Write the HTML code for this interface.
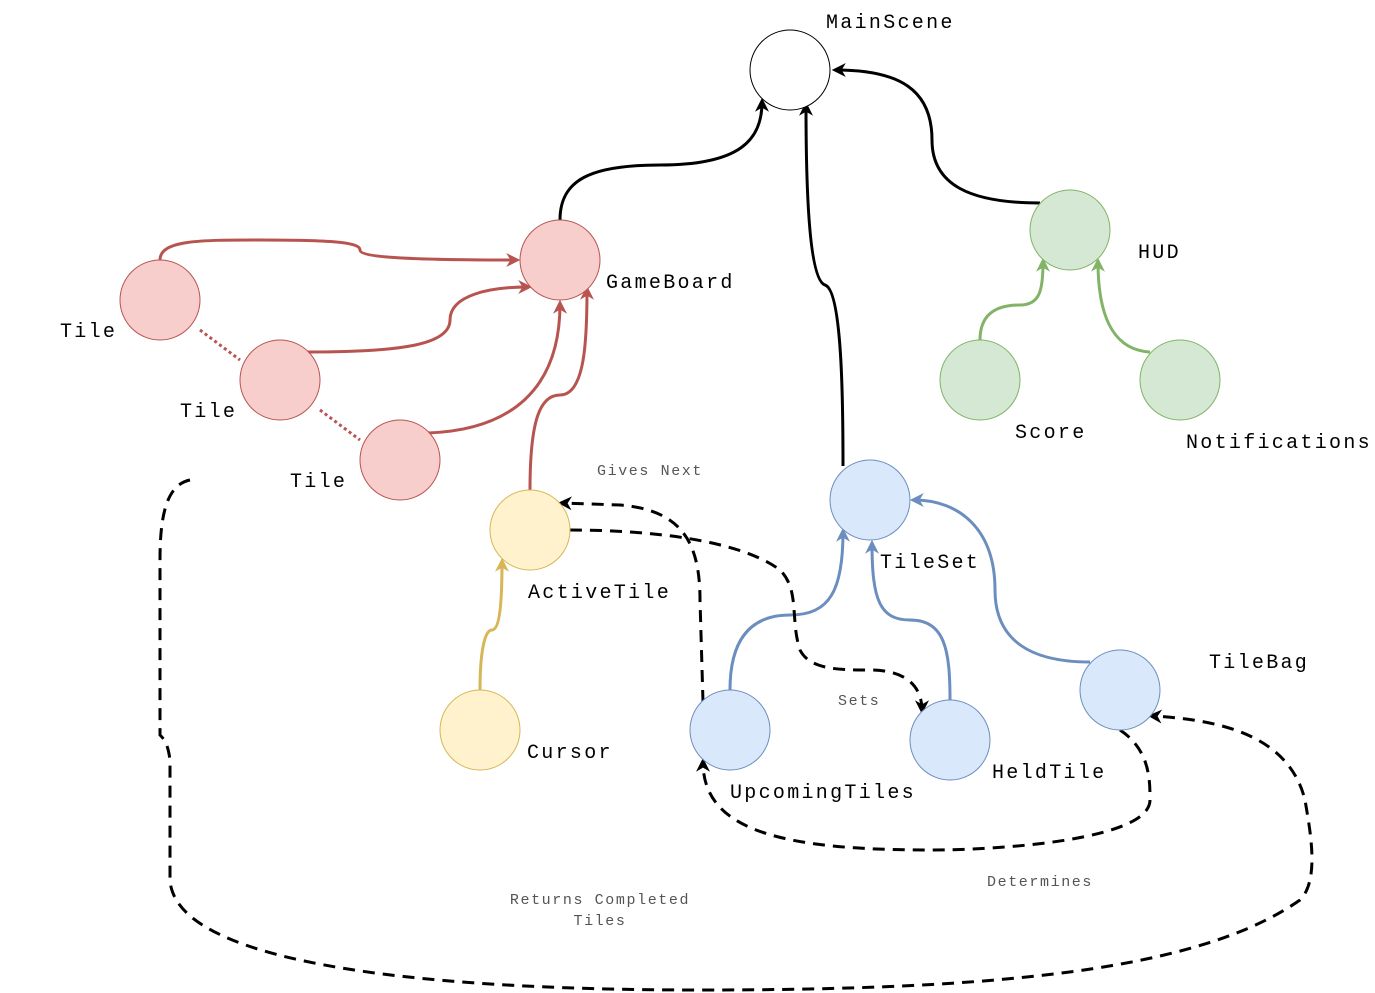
<!DOCTYPE html>
<html><head><meta charset="utf-8"><style>
html,body{margin:0;padding:0;background:#fff}
svg{display:block}
.l{font-family:"Liberation Mono",monospace;font-size:20px;letter-spacing:2.3px;fill:#000}
.s{font-family:"Liberation Mono",monospace;font-size:15px;letter-spacing:1.6px;fill:#555}
</style></head><body>
<svg width="1375" height="993" viewBox="0 0 1375 993" xmlns="http://www.w3.org/2000/svg">
<defs>
<marker id="ak" markerWidth="14" markerHeight="14" refX="7" refY="5" orient="auto" markerUnits="userSpaceOnUse" viewBox="0 0 10 10"><path d="M0,0 L10,5 L0,10 L3,5 Z" fill="#000"/></marker>
<marker id="ar" markerWidth="14" markerHeight="14" refX="7" refY="5" orient="auto" markerUnits="userSpaceOnUse" viewBox="0 0 10 10"><path d="M0,0 L10,5 L0,10 L3,5 Z" fill="#b85450"/></marker>
<marker id="ay" markerWidth="14" markerHeight="14" refX="7" refY="5" orient="auto" markerUnits="userSpaceOnUse" viewBox="0 0 10 10"><path d="M0,0 L10,5 L0,10 L3,5 Z" fill="#d6b656"/></marker>
<marker id="ab" markerWidth="14" markerHeight="14" refX="7" refY="5" orient="auto" markerUnits="userSpaceOnUse" viewBox="0 0 10 10"><path d="M0,0 L10,5 L0,10 L3,5 Z" fill="#6c8ebf"/></marker>
<marker id="ag" markerWidth="14" markerHeight="14" refX="7" refY="5" orient="auto" markerUnits="userSpaceOnUse" viewBox="0 0 10 10"><path d="M0,0 L10,5 L0,10 L3,5 Z" fill="#82b366"/></marker>
</defs>
<g fill="none" stroke-width="3">
<path d="M560,220 C560,180 590,165 660,165 C740,165 762,140 762,102" stroke="#000" marker-end="url(#ak)"/>
<path d="M843,466 C843,400 842,290 825,285 C810,280 806,200 806,106" stroke="#000" marker-end="url(#ak)"/>
<path d="M1040,203 C970,203 932,185 932,140 C932,90 900,70 836,70" stroke="#000" marker-end="url(#ak)"/>
<path d="M160,260 C160,240 200,240 260,240 C330,240 360,242 360,250 C360,258 420,260 516,260" stroke="#b85450" marker-end="url(#ar)"/>
<path d="M308,352 C400,352 450,345 450,320 C450,295 490,287 528,287" stroke="#b85450" marker-end="url(#ar)"/>
<path d="M428,433 C510,430 560,390 560,304" stroke="#b85450" marker-end="url(#ar)"/>
<path d="M530,490 C530,420 540,395 560,395 C585,395 587,340 587,290" stroke="#b85450" marker-end="url(#ar)"/>
<path d="M200,330 L240,360 M320,410 L360,440" stroke="#b85450" stroke-dasharray="3,3"/>
<path d="M480,690 C480,650 485,630 492,630 C500,630 502,600 502,562" stroke="#d6b656" marker-end="url(#ay)"/>
<path d="M980,340 C980,315 995,305 1020,305 C1040,305 1043,290 1043,262" stroke="#82b366" marker-end="url(#ag)"/>
<path d="M1150,352 C1110,350 1098,310 1098,262" stroke="#82b366" marker-end="url(#ag)"/>
<path d="M730,690 C730,640 750,615 790,615 C830,615 843,590 843,532" stroke="#6c8ebf" marker-end="url(#ab)"/>
<path d="M950,700 C950,650 945,620 910,620 C880,620 872,600 872,544" stroke="#6c8ebf" marker-end="url(#ab)"/>
<path d="M1090,662 C1030,662 995,640 995,590 C995,530 960,500 914,500" stroke="#6c8ebf" marker-end="url(#ab)"/>
<g stroke="#000" stroke-dasharray="12,8">
<path d="M570,530 C650,530 740,540 780,570 C800,590 790,620 800,650 C810,670 840,670 870,670 C910,670 922,690 922,710" marker-end="url(#ak)"/>
<path d="M703,702 L700,600 C700,540 680,510 620,505 L562,503" marker-end="url(#ak)"/>
<path d="M1120,730 C1150,750 1150,780 1150,800 C1150,840 1000,850 930,850 C780,850 703,830 703,762" marker-end="url(#ak)"/>
<path d="M190,480 C165,485 160,520 160,560 L160,735 C165,740 168,745 170,760 L170,880 C175,960 400,990 700,990 C1000,990 1200,970 1300,900 C1320,880 1310,830 1305,800 C1290,740 1230,720 1152,716" marker-end="url(#ak)"/>
</g>
</g>
<g stroke-width="1">
<circle cx="790" cy="70" r="40" fill="#fff" stroke="#000"/>
<circle cx="560" cy="260" r="40" fill="#f8cecc" stroke="#b85450"/>
<circle cx="160" cy="300" r="40" fill="#f8cecc" stroke="#b85450"/>
<circle cx="280" cy="380" r="40" fill="#f8cecc" stroke="#b85450"/>
<circle cx="400" cy="460" r="40" fill="#f8cecc" stroke="#b85450"/>
<circle cx="530" cy="530" r="40" fill="#fff2cc" stroke="#d6b656"/>
<circle cx="480" cy="730" r="40" fill="#fff2cc" stroke="#d6b656"/>
<circle cx="870" cy="500" r="40" fill="#dae8fc" stroke="#6c8ebf"/>
<circle cx="730" cy="730" r="40" fill="#dae8fc" stroke="#6c8ebf"/>
<circle cx="950" cy="740" r="40" fill="#dae8fc" stroke="#6c8ebf"/>
<circle cx="1120" cy="690" r="40" fill="#dae8fc" stroke="#6c8ebf"/>
<circle cx="1070" cy="230" r="40" fill="#d5e8d4" stroke="#82b366"/>
<circle cx="980" cy="380" r="40" fill="#d5e8d4" stroke="#82b366"/>
<circle cx="1180" cy="380" r="40" fill="#d5e8d4" stroke="#82b366"/>
</g>
<text class="l" x="826" y="28">MainScene</text>
<text class="l" x="606" y="288">GameBoard</text>
<text class="l" x="60" y="337">Tile</text>
<text class="l" x="180" y="417">Tile</text>
<text class="l" x="290" y="487">Tile</text>
<text class="l" x="528" y="598">ActiveTile</text>
<text class="l" x="527" y="758">Cursor</text>
<text class="l" x="880" y="568">TileSet</text>
<text class="l" x="730" y="798">UpcomingTiles</text>
<text class="l" x="992" y="778">HeldTile</text>
<text class="l" x="1209" y="668">TileBag</text>
<text class="l" x="1138" y="258">HUD</text>
<text class="l" x="1015" y="438">Score</text>
<text class="l" x="1186" y="448">Notifications</text>
<text class="s" x="597" y="475">Gives Next</text>
<text class="s" x="838" y="705">Sets</text>
<text class="s" x="987" y="886">Determines</text>
<text class="s" x="600" y="904" text-anchor="middle">Returns Completed</text>
<text class="s" x="600" y="925" text-anchor="middle">Tiles</text>
</svg>
</body></html>
